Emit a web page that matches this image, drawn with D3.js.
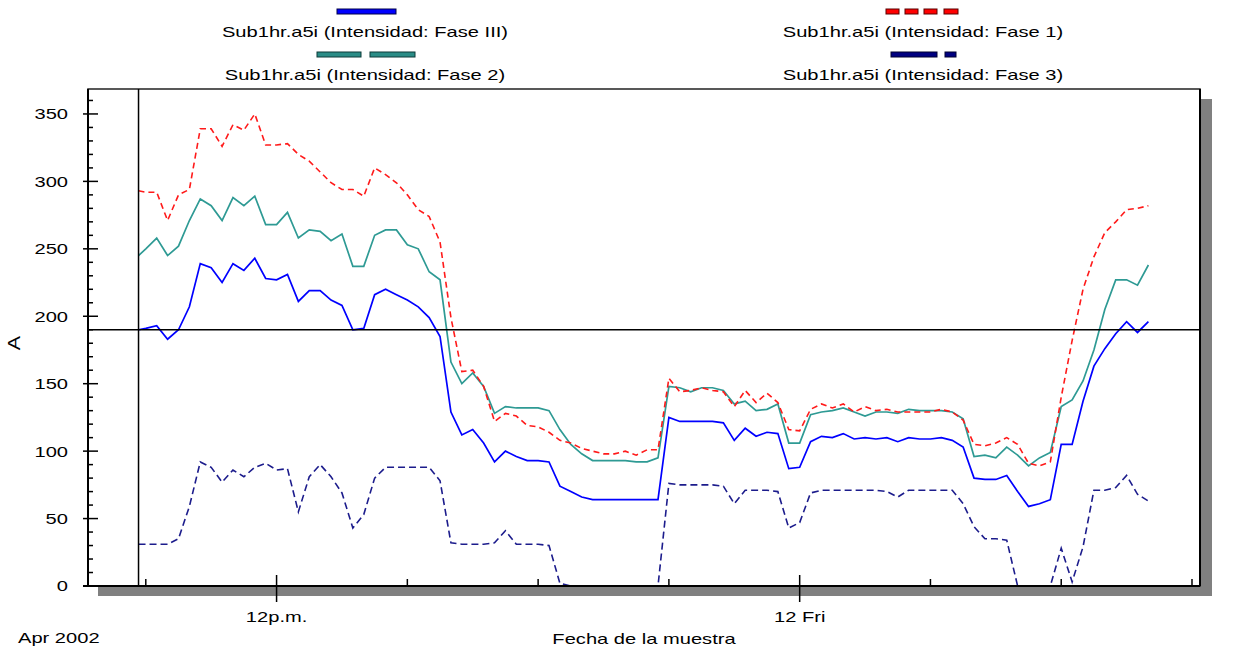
<!DOCTYPE html>
<html><head><meta charset="utf-8">
<script src="https://cdn.jsdelivr.net/npm/d3@7"></script>
<style>
body{margin:0;background:#fff;}
svg{display:block;}
text{font-family:"Liberation Sans",Arial,sans-serif;font-size:15px;fill:#000;}
</style>
</head><body>
<svg id="chart" width="1237" height="652"></svg>
<script>
// ---------------- DATA ----------------
const seriesNames = [
  "Sub1hr.a5i (Intensidad: Fase III)",
  "Sub1hr.a5i (Intensidad: Fase 1)",
  "Sub1hr.a5i (Intensidad: Fase 2)",
  "Sub1hr.a5i (Intensidad: Fase 3)"
];
const firstSample = "2002-04-11T08:50:00";   // first reading
const gridStart   = "2002-04-11T09:00:00";   // then one reading every 15 minutes
const stepMinutes = 15;

const faseIII = [190,191,193,183,190,207,239,236,225,239,
  234,243,228,227,231,211,219,219,212,208,
  190,191,216,220,216,212,207,199,185,129,
  112,116,106,92,100,96,93,93,92,74,
  70,66,64,64,64,64,64,64,64,125,
  122,122,122,122,121,108,117,111,114,113,
  87,88,107,111,110,113,109,110,109,110,
  107,110,109,109,110,108,103,80,79,79,
  82,70,59,61,64,105,105,137,163,176,
  187,196,188,196];
const fase1 = [293,292,292,271,290,294,339,339,326,342,
  338,350,327,327,328,320,315,307,299,294,
  294,289,310,305,299,290,279,274,255,199,
  159,160,148,122,128,126,119,118,114,108,
  106,102,100,98,98,100,97,101,101,154,
  144,145,147,145,144,133,145,136,143,136,
  116,115,131,135,132,135,129,133,130,131,
  129,129,129,129,131,129,123,105,104,106,
  110,105,91,89,92,140,182,220,244,262,
  270,279,280,282];
const fase2 = [245,250,258,245,252,271,287,282,271,288,
  282,289,268,268,277,258,264,263,256,261,
  237,237,260,264,264,253,250,233,227,166,
  150,158,148,128,133,132,132,132,130,116,
  105,98,93,93,93,93,92,92,95,148,
  147,144,147,147,145,135,137,130,131,135,
  106,106,127,129,130,132,129,126,129,129,
  128,131,130,130,130,129,124,96,97,95,
  103,97,89,95,99,133,138,152,175,205,
  227,227,223,238];
const fase3 = [31,31,31,31,35,59,92,88,77,86,
  81,88,91,86,87,55,81,90,81,69,
  43,53,80,88,88,88,88,88,78,32,
  31,31,31,32,41,31,31,31,30,2,
  0,0,0,0,0,0,0,0,0,76,
  75,75,75,75,74,61,71,71,71,70,
  43,47,69,71,71,71,71,71,71,70,
  66,71,71,71,71,71,61,44,35,35,
  34,0,0,0,0,28,3,29,71,71,
  73,82,68,63];

const yTicksMajor = [0,50,100,150,200,250,300,350];
const yMinorStep = 10;
const xTickLabels = {12: "12p.m.", 0: "12 Fri"};
const cornerLabel = "Apr 2002";
const xTitle = "Fecha de la muestra";
const yTitle = "A";
const cursorValue = 190;
const xDomain = ["2002-04-11T07:40:27", "2002-04-12T09:11:01"];
const yDomain = [0, 368.5];

// ---------------- LAYOUT ----------------
const P = {left: 88, right: 1200, top: 89, bottom: 586};
const STRETCH = 1.34;
const svg = d3.select("#chart");

const parse = d3.isoParse;
const times = faseIII.map((_, i) => i === 0 ? parse(firstSample)
   : d3.timeMinute.offset(parse(gridStart), (i - 1) * stepMinutes));

const x = d3.scaleTime().domain(xDomain.map(parse)).range([P.left, P.right]);
const y = d3.scaleLinear().domain(yDomain).range([P.bottom, P.top]);

function stretch(sel, f) {
  sel.each(function () {
    const w = this.getComputedTextLength();
    d3.select(this).attr("textLength", w * f).attr("lengthAdjust", "spacingAndGlyphs");
  });
}

// shadow + plot area
svg.append("rect").attr("x", P.left + 10).attr("y", P.top + 10)
  .attr("width", P.right - P.left + 2).attr("height", P.bottom - P.top)
  .attr("fill", "#808080");
svg.append("rect").attr("x", P.left).attr("y", P.top)
  .attr("width", P.right - P.left).attr("height", P.bottom - P.top)
  .attr("fill", "#fff").attr("stroke", "#222").attr("stroke-width", 1.5);

// series
const series = [
  {vals: fase3,   color: "#1c1c8c", dash: "7,4", w: 1.6},
  {vals: faseIII, color: "#0000ff", dash: null,  w: 1.7},
  {vals: fase2,   color: "#2e9a94", dash: null,  w: 1.7},
  {vals: fase1,   color: "#ff1a1a", dash: "6,4", w: 1.6}
];
const line = d3.line().x((d, i) => x(times[i])).y(d => y(d));
series.forEach(s => {
  svg.append("path").datum(s.vals).attr("d", line)
    .attr("fill", "none").attr("stroke", s.color).attr("stroke-width", s.w)
    .attr("stroke-dasharray", s.dash).attr("stroke-linejoin", "miter");
});

// axes lines
svg.append("line").attr("x1", P.left).attr("x2", P.left).attr("y1", P.top).attr("y2", P.bottom)
  .attr("stroke", "#000").attr("stroke-width", 2);
svg.append("line").attr("x1", P.left - 5).attr("x2", P.right).attr("y1", P.bottom).attr("y2", P.bottom)
  .attr("stroke", "#000").attr("stroke-width", 2);
svg.append("line").attr("x1", P.right).attr("x2", P.right).attr("y1", P.top).attr("y2", P.bottom)
  .attr("stroke", "#000").attr("stroke-width", 2);

// y ticks
const yMinor = d3.range(0, yDomain[1], yMinorStep).filter(v => !yTicksMajor.includes(v));
svg.append("g").selectAll("line").data(yMinor).join("line")
  .attr("x1", P.left).attr("x2", P.left + 5).attr("y1", d => y(d)).attr("y2", d => y(d))
  .attr("stroke", "#000").attr("stroke-width", 1.5);
svg.append("g").selectAll("line").data(yTicksMajor).join("line")
  .attr("x1", P.left - 5).attr("x2", P.left + 10).attr("y1", d => y(d)).attr("y2", d => y(d))
  .attr("stroke", "#000").attr("stroke-width", 1.5);
svg.append("g").selectAll("text").data(yTicksMajor).join("text")
  .attr("x", 68).attr("y", d => y(d)).attr("dy", "0.36em").attr("text-anchor", "end")
  .text(d => d).call(stretch, STRETCH);

// x ticks
const xTicks = d3.timeHour.every(3).range(x.domain()[0], x.domain()[1]);
xTicks.forEach(t => {
  const major = xTickLabels[t.getHours()] !== undefined;
  svg.append("line").attr("x1", x(t)).attr("x2", x(t))
    .attr("y1", major ? P.bottom - 11 : P.bottom - 7).attr("y2", major ? P.bottom + 16 : P.bottom)
    .attr("stroke", "#000").attr("stroke-width", 1.5);
  if (major) {
    svg.append("text").attr("x", x(t)).attr("y", 622).attr("text-anchor", "middle")
      .text(xTickLabels[t.getHours()]).call(stretch, STRETCH);
  }
});

// cursor crosshair
svg.append("line").attr("x1", x(times[0])).attr("x2", x(times[0])).attr("y1", P.top).attr("y2", P.bottom)
  .attr("stroke", "#000").attr("stroke-width", 1.5);
svg.append("line").attr("x1", P.left).attr("x2", P.right).attr("y1", y(cursorValue)).attr("y2", y(cursorValue))
  .attr("stroke", "#000").attr("stroke-width", 1.5);

// titles
svg.append("text").attr("x", 18).attr("y", 643).text(cornerLabel).call(stretch, STRETCH);
svg.append("text").attr("x", 644).attr("y", 644).attr("text-anchor", "middle").text(xTitle).call(stretch, STRETCH);
svg.append("text").attr("transform", "translate(20,343) rotate(-90)").attr("text-anchor", "middle")
  .style("font-size", "16px").text(yTitle).call(stretch, STRETCH);

// legend
const legend = [
  {name: seriesNames[0], cx: 365, ty: 37, sw: [[337, 396]], sy: 9,  fill: "#0000ff", stroke: "#00004a"},
  {name: seriesNames[1], cx: 923, ty: 37, sw: [[886, 899], [905, 918], [924, 937], [944, 958]], sy: 9, fill: "#ff0000", stroke: "#5a0000"},
  {name: seriesNames[2], cx: 365, ty: 80, sw: [[317, 361], [370, 415]], sy: 52, fill: "#2a8c86", stroke: "#0c3b38"},
  {name: seriesNames[3], cx: 923, ty: 80, sw: [[891, 937], [945, 956]], sy: 52, fill: "#000080", stroke: "#000030"}
];
legend.forEach(l => {
  l.sw.forEach(([a, b]) => {
    svg.append("rect").attr("x", a).attr("y", l.sy).attr("width", b - a).attr("height", 5)
      .attr("fill", l.fill).attr("stroke", l.stroke).attr("stroke-width", 1);
  });
  svg.append("text").attr("x", l.cx).attr("y", l.ty).attr("text-anchor", "middle")
    .text(l.name).call(stretch, STRETCH);
});
</script>
</body></html>
